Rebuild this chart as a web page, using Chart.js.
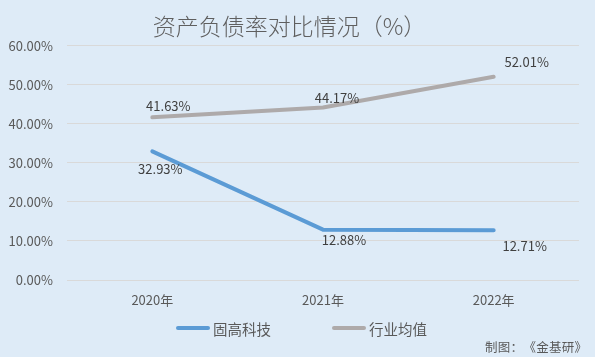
<!DOCTYPE html>
<html><head><meta charset="utf-8">
<script src="https://cdn.jsdelivr.net/npm/chart.js@4/dist/chart.umd.min.js"></script>
<style>html,body{margin:0;padding:0;background:#deebf7;}#wrap{width:595px;height:357px;}</style>
</head><body><div id="wrap"><canvas id="c" width="595" height="357"></canvas></div>
<script>
const categories = ['2020年', '2021年', '2022年'];
const companyName = '固高科技';
const companyValues = [32.93, 12.88, 12.71];
const industryName = '行业均值';
const industryValues = [41.63, 44.17, 52.01];
const yTicks = [0, 10, 20, 30, 40, 50, 60];
const titleText = '资产负债率对比情况（%）';
const sourceText = '制图：《金基研》';

const FONT = "'Noto Sans CJK SC', 'Noto Sans', sans-serif";
const labelOffsets = [
  [[8, 18], [21, 10], [31, 16]],
  [[16, -11], [14, -9], [33, -15]]
];

const decor = {
  id: 'decor',
  beforeDraw(chart) {
    const ctx = chart.ctx;
    ctx.save();
    ctx.fillStyle = '#deebf7';
    ctx.fillRect(0, 0, chart.width, chart.height);
    ctx.restore();
  },
  afterDatasetsDraw(chart) {
    const ctx = chart.ctx;
    ctx.save();
    ctx.font = '13px ' + FONT;
    ctx.fillStyle = '#404040';
    ctx.textAlign = 'center';
    ctx.textBaseline = 'middle';
    chart.data.datasets.forEach((ds, di) => {
      const meta = chart.getDatasetMeta(di);
      meta.data.forEach((pt, i) => {
        const off = labelOffsets[di][i];
        ctx.fillText(ds.data[i].toFixed(2) + '%', pt.x + off[0], pt.y + off[1]);
      });
    });
    ctx.restore();
  },
  afterDraw(chart) {
    const ctx = chart.ctx;
    ctx.save();
    // legend
    const ly = 328;
    const items = chart.data.datasets.map(d => ({ text: d.label, color: d.borderColor }));
    ctx.font = '14.5px ' + FONT;
    ctx.textBaseline = 'middle';
    ctx.textAlign = 'left';
    const lineW = 34, gapLT = 3, gapItems = 61;
    let x = 176;
    items.forEach(it => {
      ctx.strokeStyle = it.color;
      ctx.lineWidth = 4;
      ctx.lineCap = 'round';
      ctx.beginPath();
      ctx.moveTo(x + 2, ly);
      ctx.lineTo(x + lineW - 2, ly);
      ctx.stroke();
      ctx.fillStyle = '#595959';
      ctx.fillText(it.text, x + lineW + gapLT, ly + 1);
      x += lineW + gapLT + ctx.measureText(it.text).width + gapItems;
    });
    // source (full-width cells)
    ctx.font = '12.5px ' + FONT;
    ctx.textAlign = 'center';
    ctx.fillStyle = '#595959';
    const chars = Array.from(sourceText);
    const adv = 12.75;
    let sx = 587 - adv * chars.length;
    chars.forEach((ch, i) => ctx.fillText(ch, sx + adv * (i + 0.5), 347));
    ctx.restore();
  }
};

new Chart(document.getElementById('c'), {
  type: 'line',
  data: {
    labels: categories,
    datasets: [
      { label: companyName, data: companyValues, borderColor: '#5b9bd5', backgroundColor: '#5b9bd5',
        borderWidth: 4, pointRadius: 0, tension: 0, borderCapStyle: 'round', borderJoinStyle: 'round' },
      { label: industryName, data: industryValues, borderColor: '#aeaaaa', backgroundColor: '#aeaaaa',
        borderWidth: 4, pointRadius: 0, tension: 0, borderCapStyle: 'round', borderJoinStyle: 'round' }
    ]
  },
  options: {
    responsive: false,
    animation: false,
    devicePixelRatio: 1,
    layout: { padding: { left: 0, right: 16, top: 0, bottom: 50 } },
    plugins: {
      legend: { display: false },
      tooltip: { enabled: false },
      title: {
        display: true, text: titleText, color: '#5f5f5f',
        font: { family: FONT, size: 23, weight: 300 },
        padding: { top: 12, bottom: 6 }
      }
    },
    scales: {
      x: {
        offset: true,
        grid: { display: false, drawTicks: false },
        border: { display: false },
        ticks: { color: '#595959', font: { family: FONT, size: 13 }, padding: 12, maxRotation: 0 },
        afterFit(s) { s.height = 27; }
      },
      y: {
        min: 0, max: 60,
        afterBuildTicks(s) { s.ticks = yTicks.map(v => ({ value: v })); },
        grid: { color: '#d9d9d9', lineWidth: 1, drawTicks: false },
        border: { display: false },
        ticks: { color: '#595959', font: { family: FONT, size: 13 }, padding: 14,
          callback: v => v.toFixed(2) + '%' },
        afterFit(s) { s.width = 67; }
      }
    }
  },
  plugins: [decor]
});
</script></body></html>
